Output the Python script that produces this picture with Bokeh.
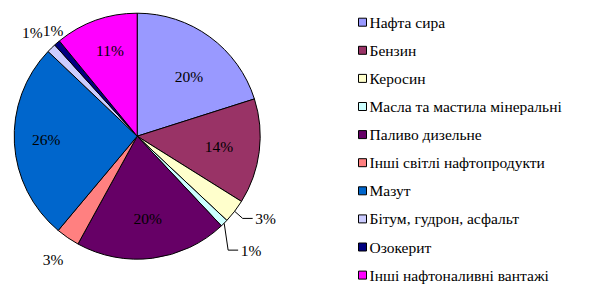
import math
from bokeh.plotting import figure
from bokeh.models import Range1d, ColumnDataSource
from bokeh.core.properties import value
from bokeh.embed import file_html
from bokeh.resources import INLINE

# ---- data ----
categories = ["Нафта сира", "Бензин", "Керосин", "Масла та мастила мінеральні",
              "Паливо дизельне", "Інші світлі нафтопродукти", "Мазут",
              "Бітум, гудрон, асфальт", "Озокерит", "Інші нафтоналивні вантажі"]
shares = [20.1, 13.8, 3.1, 1.0, 20.0, 3.1, 26.0, 1.2, 0.8, 10.9]
colors = ["#9999FF", "#993366", "#FFFFCC", "#CCFFFF", "#660066",
          "#FF8080", "#0066CC", "#CCCCFF", "#000080", "#FF00FF"]

# ---- layout / style ----
W, H = 591, 290
CX, CY = 136.7, H - 135.7
R = 123
label_factor = [0.64, 0.67, 1.24, 1.31, 0.675, 1.21, 0.74, 1.2, 1.1, 0.73]
label_shift_deg = [5, 0, -5, 0, 0, 0, 1, -1, 2.3, 2]
leader = [False, False, True, True, False, False, False, False, False, False]
FONT = value("Liberation Serif")
FS = "15.5px"

total = sum(shares)
starts, ends, mids = [], [], []
cum = 0.0
for s in shares:
    a0 = cum / total * 360.0
    cum += s
    a1 = cum / total * 360.0
    starts.append(a0)
    ends.append(a1)
    mids.append((a0 + a1) / 2)

def to_xy(deg_cw_from_top, r):
    t = math.radians(deg_cw_from_top)
    return CX + r * math.sin(t), CY + r * math.cos(t)

p = figure(width=W, height=H, output_backend="svg", toolbar_location=None,
           x_range=Range1d(0, W), y_range=Range1d(0, H), min_border=0)
p.axis.visible = False
p.grid.visible = False
p.outline_line_color = None
p.background_fill_color = "white"

src = ColumnDataSource(dict(
    x=[CX] * len(shares), y=[CY] * len(shares),
    start=[math.radians(90 - a) for a in starts],
    end=[math.radians(90 - a) for a in ends],
    color=colors))
p.wedge(x="x", y="y", radius=R, start_angle="start", end_angle="end",
        direction="clock", fill_color="color", line_color="black",
        line_width=1, source=src)

lx, ly, lt = [], [], []
lead_xs, lead_ys = [], []
for i, s in enumerate(shares):
    x, y = to_xy(mids[i] + label_shift_deg[i], R * label_factor[i])
    lx.append(x)
    ly.append(y)
    lt.append(f"{round(s / total * 100)}%")
    if leader[i]:
        x0, y0 = to_xy(mids[i], R)
        left = x - 11
        lead_xs.append([x0, left - 12, left - 2])
        lead_ys.append([y0, y, y])

p.text(x=lx, y=ly, text=lt, text_font=FONT, text_font_size=FS,
       text_align="center", text_baseline="middle", text_color="black")
p.multi_line(xs=lead_xs, ys=lead_ys, line_color="black", line_width=1)

# ---- legend ----
LEG_X = 362
LEG_Y0 = 21.7
LEG_DY = 28.1
sq_x = [LEG_X] * len(categories)
sq_y = [H - (LEG_Y0 + LEG_DY * i) for i in range(len(categories))]
p.rect(x=sq_x, y=sq_y, width=8, height=8, fill_color=colors,
       line_color="black", line_width=1)
p.text(x=[LEG_X + 7] * len(categories), y=sq_y, text=categories,
       text_font=FONT, text_font_size=FS, text_align="left",
       text_baseline="middle", text_color="black")

open("out.html", "w").write(file_html(p, INLINE))
